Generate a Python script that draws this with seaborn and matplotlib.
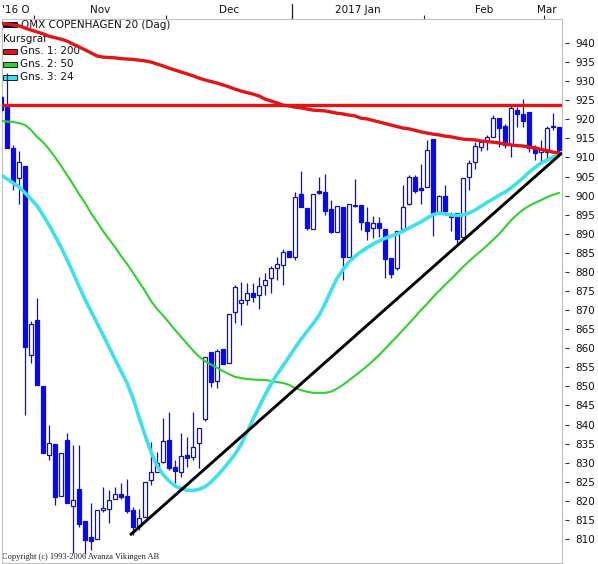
import numpy as np
import pandas as pd
import matplotlib
matplotlib.use("Agg")
import matplotlib.pyplot as plt
import matplotlib.transforms as mtransforms
from matplotlib.patches import Rectangle
import seaborn as sns

# daily OHLC, OMX Copenhagen 20, 24 Oct 2016 - 3 Mar 2017
open_ = [925.8, 923.2, 912.5, 904.6, 907.8, 858.2, 867.4, 850.1, 832.0, 834.9,
         821.3, 835.9, 818.6, 823.1, 814.7, 810.5, 810.0, 817.6, 817.8, 820.5,
         821.8, 821.3, 817.6, 813.4, 815.8, 825.5, 827.6, 830.2, 835.9, 828.9,
         827.6, 832.0, 831.5, 835.2, 841.4, 859.0, 851.4, 859.8, 856.1, 869.5,
         871.8, 872.6, 874.5, 874.0, 876.6, 878.4, 881.0, 881.8, 885.5, 883.9,
         900.4, 896.8, 891.2, 901.2, 900.9, 896.5, 890.5, 897.0, 883.9, 897.3,
         897.5, 893.1, 891.5, 892.8, 891.2, 883.6, 881.0, 891.2, 897.8, 904.9,
         902.0, 902.3, 914.8, 895.7, 899.9, 894.4, 895.4, 889.1, 904.9, 908.8,
         912.7, 914.0, 915.4, 920.3, 918.2, 913.3, 922.4, 921.4, 921.9, 912.7,
         911.4, 911.4, 918.2, 918.0]
high = [933.0, 932.1, 913.3, 911.7, 907.8, 867.1, 873.2, 850.1, 839.9, 834.9,
        832.5, 837.8, 834.6, 834.6, 814.7, 819.4, 817.6, 823.6, 822.8, 823.6,
        824.7, 825.7, 818.4, 817.8, 824.9, 835.4, 832.8, 841.7, 843.3, 830.7,
        837.8, 836.7, 843.3, 839.1, 857.7, 859.0, 859.8, 859.8, 869.0, 876.5,
        877.4, 877.1, 877.1, 878.7, 879.7, 881.5, 883.9, 886.0, 885.5, 900.9,
        906.4, 896.8, 900.4, 904.9, 905.7, 898.8, 897.3, 897.0, 897.8, 904.4,
        897.5, 897.0, 894.7, 894.4, 891.2, 883.6, 890.7, 902.8, 905.4, 905.4,
        908.3, 914.6, 914.8, 900.2, 902.8, 895.7, 895.5, 904.6, 909.3, 914.0,
        914.3, 915.9, 921.1, 920.3, 918.8, 923.5, 923.2, 925.3, 921.9, 913.3,
        914.6, 918.2, 921.7, 918.0]
low = [922.0, 912.5, 901.5, 897.8, 842.5, 856.1, 850.4, 832.5, 830.7, 818.9,
       821.3, 819.4, 806.3, 813.1, 806.0, 807.1, 810.0, 817.0, 814.2, 820.5,
       820.5, 816.8, 811.0, 812.3, 815.8, 824.1, 827.6, 829.9, 828.1, 824.7,
       826.2, 828.9, 830.7, 828.6, 840.9, 849.8, 849.6, 855.9, 856.1, 866.6,
       866.1, 871.3, 872.1, 870.3, 874.0, 874.5, 877.9, 876.6, 883.9, 883.1,
       897.0, 891.0, 891.2, 900.4, 894.9, 890.2, 890.5, 877.9, 883.9, 897.0,
       891.0, 888.4, 888.9, 889.1, 878.4, 878.4, 880.5, 890.5, 897.5, 900.7,
       897.8, 902.3, 889.4, 895.2, 894.9, 890.7, 887.6, 888.9, 901.5, 907.0,
       911.8, 912.0, 915.4, 912.7, 912.5, 910.1, 918.0, 918.0, 911.4, 909.3,
       908.6, 909.3, 917.2, 910.9]
close = [922.4, 912.5, 903.6, 908.8, 860.3, 866.3, 850.4, 832.5, 835.2, 821.0,
         832.5, 819.4, 820.2, 813.9, 809.7, 809.5, 817.6, 818.0, 820.2, 821.8,
         821.0, 817.3, 813.1, 815.5, 824.9, 827.6, 829.9, 835.7, 828.6, 827.8,
         831.7, 831.2, 834.1, 839.1, 857.7, 851.1, 859.3, 855.9, 869.0, 876.0,
         872.6, 874.5, 873.4, 876.3, 877.9, 881.0, 882.1, 885.2, 883.9, 899.6,
         897.0, 891.5, 900.4, 900.7, 896.0, 890.5, 897.3, 883.9, 897.8, 897.5,
         893.1, 890.7, 892.8, 891.5, 883.4, 879.4, 890.7, 897.0, 904.9, 901.2,
         901.5, 912.0, 895.4, 899.9, 896.0, 894.7, 888.6, 904.6, 908.6, 913.0,
         914.0, 915.4, 920.3, 917.7, 913.3, 923.0, 921.4, 919.6, 912.5, 911.2,
         912.2, 917.7, 918.0, 912.0]

# moving averages (Gns. 1: 200, Gns. 2: 50, Gns. 3: 24)
ma200 = [945.2, 945.0, 944.7, 944.5, 943.9, 943.4, 942.9, 942.4, 941.8, 941.4,
         941.0, 940.5, 939.7, 939.0, 938.2, 937.4, 936.6, 936.3, 936.2, 936.1,
         935.9, 935.8, 935.7, 935.5, 935.3, 935.0, 934.5, 934.0, 933.4, 932.9,
         932.4, 931.9, 931.4, 930.8, 930.3, 929.9, 929.5, 929.0, 928.5, 927.9,
         927.4, 927.0, 926.6, 926.1, 925.3, 924.8, 924.3, 923.7, 923.5, 923.2,
         923.0, 922.7, 922.4, 922.3, 922.2, 921.9, 921.6, 921.4, 921.1, 920.9,
         920.3, 920.1, 919.7, 919.3, 918.9, 918.5, 918.1, 917.7, 917.5, 917.1,
         916.7, 916.4, 916.1, 915.9, 915.6, 915.4, 915.1, 914.8, 914.7, 914.6,
         914.3, 914.2, 914.0, 913.8, 913.5, 913.3, 913.1, 913.0, 912.7, 912.5,
         912.1, 911.8, 911.4, 911.2]
ma50 = [919.6, 919.4, 919.3, 919.0, 918.5, 917.2, 915.4, 914.0, 912.2, 910.1,
        907.8, 905.4, 903.0, 900.4, 898.1, 895.4, 893.1, 890.7, 888.6, 886.5,
        884.2, 882.1, 879.8, 877.4, 875.0, 872.4, 870.3, 868.6, 866.7, 864.8,
        863.0, 861.2, 859.4, 857.8, 856.6, 855.7, 854.9, 854.0, 853.2, 852.5,
        852.2, 851.9, 851.8, 851.7, 851.7, 851.4, 851.1, 850.9, 850.4, 849.6,
        849.0, 848.6, 848.3, 848.3, 848.3, 848.6, 849.4, 850.4, 851.6, 852.8,
        854.0, 855.3, 856.7, 858.2, 859.8, 861.5, 863.1, 864.8, 866.5, 868.2,
        870.0, 871.6, 873.4, 875.0, 876.6, 878.1, 879.7, 881.3, 882.8, 884.2,
        885.5, 886.9, 888.4, 889.9, 891.7, 893.5, 895.0, 896.3, 897.3, 898.1,
        898.8, 899.6, 900.2, 900.7]
ma24 = [905.4, 904.4, 903.3, 902.3, 900.7, 899.1, 897.3, 894.9, 892.3, 889.4,
        886.5, 883.2, 879.8, 876.2, 872.8, 869.7, 866.6, 863.5, 860.3, 857.1,
        854.0, 850.9, 846.9, 841.9, 837.2, 832.8, 829.2, 826.9, 825.2, 823.9,
        823.2, 822.8, 822.7, 823.0, 823.7, 824.9, 826.5, 828.3, 830.2, 832.2,
        834.7, 838.0, 841.4, 844.6, 847.7, 850.6, 853.1, 855.4, 857.7, 860.1,
        862.3, 864.4, 866.4, 868.6, 871.6, 875.1, 878.3, 880.6, 882.6, 884.1,
        885.3, 886.3, 887.3, 888.1, 888.8, 889.4, 889.9, 890.7, 891.5, 892.3,
        893.1, 894.1, 895.0, 895.4, 895.2, 894.9, 894.8, 894.9, 895.4, 896.2,
        897.2, 898.2, 899.1, 900.1, 900.9, 902.0, 903.3, 904.6, 906.1, 907.4,
        908.5, 909.3, 910.1, 910.6]

trend_day = [21.5, 93.5]
trend_val = [811.0, 911.2]
resistance = 923.8

month_labels = ["'16 O", "Nov", "Dec", "2017 Jan", "Feb", "Mar"]
month_start = [0, 6, 28, 49, 71, 91]   # index of first trading day
y_ticks = list(range(810, 945, 5))

legend_title = "OMX COPENHAGEN 20 (Dag)"
legend_sub = "Kursgraf"
legend_labels = ["Gns. 1: 200", "Gns. 2: 50", "Gns. 3: 24"]
copyright_txt = "Copyright (c) 1993-2006 Avanza Vikingen AB"

df = pd.DataFrame({"open": open_, "high": high, "low": low, "close": close,
                   "ma200": ma200, "ma50": ma50, "ma24": ma24})
df["day"] = np.arange(len(df))
up = df["close"] >= df["open"]

RED = "#e31414"
GREEN = "#2ed12e"
CYAN = "#3ee0ee"
BLUE = "#0a0ae6"
NAVY = "#16168c"

sns.set_style("white")
plt.rcParams["font.family"] = ["DejaVu Sans"]

W, H = 598, 564
L, R, T, B = 1.5, 562, 19, 562.5
fig = plt.figure(figsize=(W / 100, H / 100), dpi=100)
ax = fig.add_axes([L / W, 1 - B / H, (R - L) / W, (B - T) / H])

# candles
ax.vlines(df["day"], df["low"], df["high"], color=NAVY, lw=0.9, zorder=2)
ax.bar(df["day"][up], (df["close"] - df["open"])[up], bottom=df["open"][up],
       width=0.66, color="white", edgecolor=NAVY, lw=0.9, zorder=3)
ax.bar(df["day"][~up], (df["close"] - df["open"])[~up], bottom=df["open"][~up],
       width=0.66, color=BLUE, edgecolor=BLUE, lw=0.9, zorder=3)

# moving averages and lines
sns.lineplot(data=df, x="day", y="ma50", ax=ax, color=GREEN, lw=1.5, zorder=5)
sns.lineplot(data=df, x="day", y="ma24", ax=ax, color=CYAN, lw=2.6, zorder=5)
sns.lineplot(data=df, x="day", y="ma200", ax=ax, color=RED, lw=2.4, zorder=6)
ax.axhline(resistance, color=RED, lw=2.4, zorder=6)
ax.plot(trend_day, trend_val, color="black", lw=2.1, zorder=7,
        solid_capstyle="butt")

ax.set_xlim(0.08, 93.5)
ax.set_ylim(803.83, 946.29)
ax.set_xlabel("")
ax.set_ylabel("")

# y axis on the right
ax.set_yticks(y_ticks)
ax.yaxis.tick_right()
ax.tick_params(axis="y", length=0, pad=9.4, labelsize=7.5, labelcolor="#111111")
blend_y = mtransforms.blended_transform_factory(ax.transAxes, ax.transData)
ax.hlines(y_ticks, 1.0062, 1.0125, transform=blend_y, color="#333333",
          lw=0.8, clip_on=False)

# months on top
bounds = [s - 0.5 for s in month_start] + [93.5]
centers = [(a + b) / 2 for a, b in zip(bounds[:-1], bounds[1:])]
centers[-1] -= 1
ax.xaxis.tick_top()
ax.set_xticks(centers)
ax.set_xticklabels(month_labels)
ax.set_xticks(bounds[1:-1], minor=True)
ax.tick_params(axis="x", which="major", length=0, pad=3, labelsize=7.5,
               labelcolor="#111111")
ax.tick_params(axis="x", which="minor", length=3.2, width=0.8, color="#222222",
               direction="out", top=True, bottom=False)
blend_x = mtransforms.blended_transform_factory(ax.transData, ax.transAxes)
jan = month_labels.index("2017 Jan")
ax.plot([bounds[jan]] * 2, [1.0, 1.028], transform=blend_x, color="#222222",
        lw=0.9, clip_on=False)

for s in ax.spines.values():
    s.set_color("#c0c0c0")
    s.set_linewidth(0.8)

# legend (drawn under the lines like the original)
def fig_xy(px, py):
    return px / W, 1 - py / H

ax.add_patch(Rectangle(fig_xy(3, 27), 14 / W, 5 / H, transform=fig.transFigure,
                       fc="#000080", ec="black", lw=0.6, zorder=1, clip_on=False))
ax.text(*fig_xy(21, 25), legend_title, transform=fig.transFigure, fontsize=7.5,
        va="center", ha="left", color="#111111", zorder=1)
ax.text(*fig_xy(3, 39), legend_sub, transform=fig.transFigure, fontsize=7.5,
        va="center", ha="left", color="#111111", zorder=1)
for i, (lab, col) in enumerate(zip(legend_labels, [RED, GREEN, CYAN])):
    yc = 51 + i * 13
    ax.add_patch(Rectangle(fig_xy(3, yc + 2.5), 14 / W, 5 / H,
                           transform=fig.transFigure, fc=col, ec="black",
                           lw=0.6, zorder=1, clip_on=False))
    ax.text(*fig_xy(20, yc), lab, transform=fig.transFigure, fontsize=7.5,
            va="center", ha="left", color="#111111", zorder=1)

ax.text(*fig_xy(2, 557), copyright_txt, transform=fig.transFigure, fontsize=6,
        family="Liberation Serif", va="center", ha="left", color="#222222",
        zorder=1)

fig.savefig("out.png", dpi=100)
